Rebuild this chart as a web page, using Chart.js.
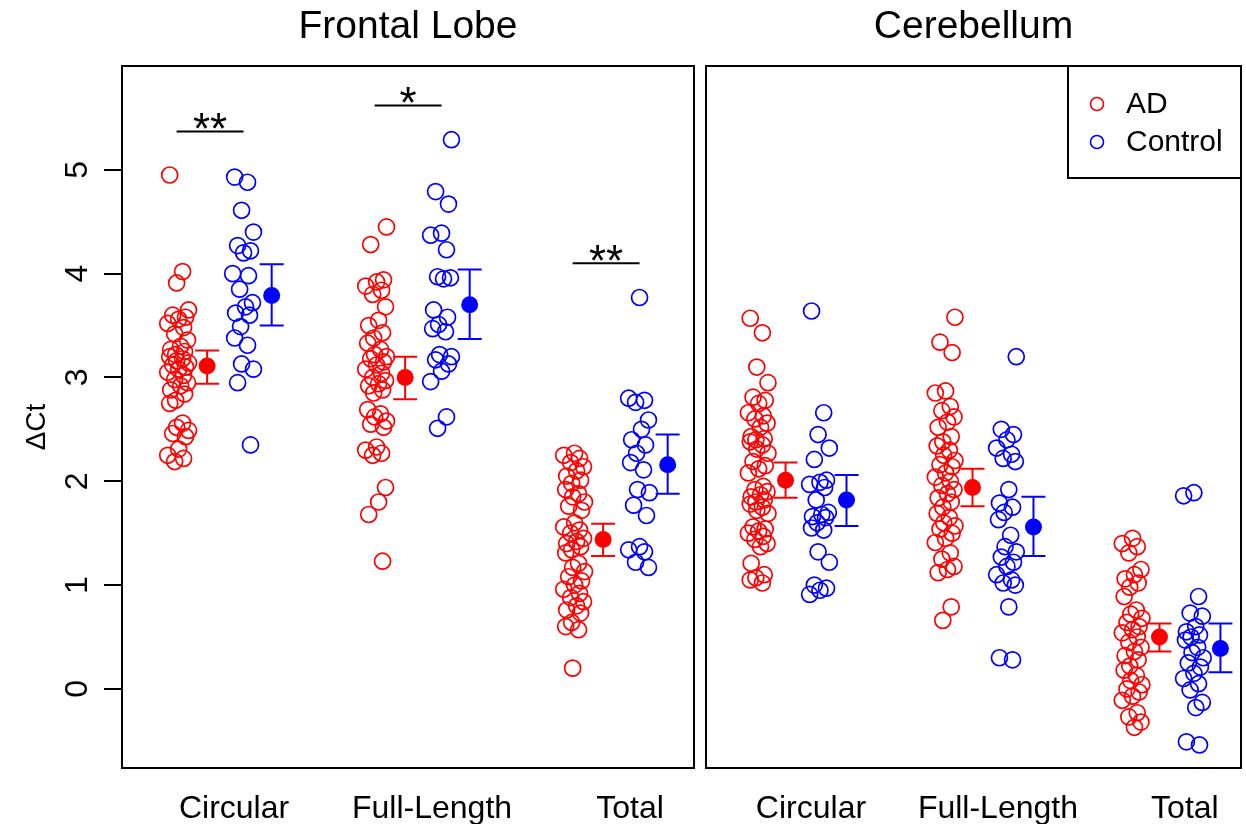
<!DOCTYPE html>
<html>
<head>
<meta charset="utf-8">
<script src="https://cdn.jsdelivr.net/npm/chart.js@4.4.1/dist/chart.umd.min.js"></script>
<style>
  html, body { margin: 0; padding: 0; background: #fff; }
  #wrap { position: relative; width: 1246px; height: 824px; }
  #frontal { position: absolute; left: 0; top: 0; }
  #cerebellum { position: absolute; left: 700px; top: 0; }
</style>
</head>
<body>
<div id="wrap">
  <canvas id="frontal" width="700" height="824" style="width:700px;height:824px"></canvas>
  <canvas id="cerebellum" width="546" height="824" style="width:546px;height:824px"></canvas>
</div>
<script>
// Categories and tick labels
const groups = ['Circular', 'Full-Length', 'Total'];
const yTicks = [0, 1, 2, 3, 4, 5];
const seriesNames = ['AD', 'Control'];

// Frontal lobe values (ΔCt) per group
const frontalCircAD = [4.95, 4.02, 3.91, 3.65, 3.60, 3.58, 3.56, 3.52, 3.48, 3.42, 3.36, 3.30, 3.27, 3.25, 3.22, 3.20, 3.18, 3.16, 3.14, 3.12, 3.10, 3.08, 3.05, 3.02, 2.98, 2.95, 2.92, 2.88, 2.84, 2.78, 2.75, 2.56, 2.52, 2.49, 2.46, 2.43, 2.31, 2.25, 2.22, 2.19];
const frontalCircCtrl = [4.93, 4.88, 4.61, 4.40, 4.27, 4.22, 4.20, 4.00, 3.98, 3.85, 3.72, 3.68, 3.62, 3.60, 3.49, 3.38, 3.31, 3.13, 3.08, 2.95, 2.35];
const frontalFullAD = [4.45, 4.28, 3.94, 3.92, 3.88, 3.84, 3.80, 3.68, 3.55, 3.50, 3.43, 3.38, 3.33, 3.27, 3.22, 3.20, 3.18, 3.15, 3.12, 3.08, 3.04, 3.00, 2.97, 2.94, 2.92, 2.88, 2.85, 2.69, 2.65, 2.62, 2.58, 2.55, 2.52, 2.33, 2.30, 2.27, 2.25, 1.94, 1.80, 1.68, 1.23];
const frontalFullCtrl = [5.29, 4.79, 4.67, 4.39, 4.37, 4.23, 3.97, 3.96, 3.95, 3.65, 3.58, 3.51, 3.47, 3.44, 3.22, 3.20, 3.17, 3.13, 3.06, 2.96, 2.62, 2.51];
const frontalTotalAD = [2.27, 2.25, 2.22, 2.18, 2.14, 2.10, 2.05, 2.01, 1.98, 1.92, 1.88, 1.85, 1.80, 1.76, 1.72, 1.60, 1.56, 1.53, 1.50, 1.45, 1.42, 1.40, 1.37, 1.34, 1.31, 1.21, 1.17, 1.13, 1.08, 1.04, 1.00, 0.96, 0.92, 0.88, 0.84, 0.80, 0.76, 0.73, 0.64, 0.60, 0.57, 0.20];
const frontalTotalCtrl = [3.77, 2.80, 2.78, 2.76, 2.59, 2.50, 2.40, 2.35, 2.27, 2.18, 2.11, 1.92, 1.89, 1.77, 1.67, 1.37, 1.34, 1.32, 1.22, 1.17];

// Cerebellum values (ΔCt) per group
const cerebCircAD = [3.57, 3.43, 3.10, 2.95, 2.81, 2.78, 2.75, 2.66, 2.63, 2.60, 2.56, 2.52, 2.43, 2.41, 2.40, 2.38, 2.35, 2.31, 2.27, 2.19, 2.15, 2.12, 2.08, 1.95, 1.92, 1.90, 1.87, 1.85, 1.82, 1.80, 1.78, 1.75, 1.72, 1.69, 1.56, 1.54, 1.52, 1.50, 1.47, 1.44, 1.40, 1.37, 1.21, 1.10, 1.07, 1.05, 1.02];
const cerebCircCtrl = [3.64, 2.66, 2.45, 2.32, 2.21, 2.01, 1.99, 1.97, 1.94, 1.82, 1.70, 1.68, 1.66, 1.65, 1.60, 1.55, 1.53, 1.32, 1.22, 1.00, 0.97, 0.95, 0.91];
const cerebFullAD = [3.58, 3.34, 3.24, 2.87, 2.85, 2.72, 2.68, 2.62, 2.57, 2.52, 2.43, 2.38, 2.34, 2.30, 2.25, 2.20, 2.16, 2.14, 2.08, 2.04, 2.00, 1.96, 1.92, 1.88, 1.84, 1.80, 1.75, 1.69, 1.65, 1.60, 1.57, 1.54, 1.50, 1.45, 1.41, 1.31, 1.25, 1.18, 1.15, 1.12, 0.79, 0.66];
const cerebFullCtrl = [3.20, 2.50, 2.45, 2.40, 2.32, 2.26, 2.22, 2.19, 1.92, 1.79, 1.75, 1.70, 1.63, 1.48, 1.37, 1.32, 1.27, 1.22, 1.18, 1.10, 1.05, 1.02, 1.00, 0.79, 0.30, 0.28];
const cerebTotalAD = [1.45, 1.40, 1.37, 1.31, 1.15, 1.10, 1.06, 1.02, 0.98, 0.89, 0.76, 0.72, 0.68, 0.64, 0.60, 0.57, 0.54, 0.50, 0.45, 0.40, 0.36, 0.32, 0.28, 0.22, 0.18, 0.13, 0.08, 0.04, 0.00, -0.03, -0.07, -0.11, -0.23, -0.27, -0.32, -0.37];
const cerebTotalCtrl = [1.89, 1.86, 0.89, 0.73, 0.70, 0.60, 0.55, 0.52, 0.50, 0.47, 0.40, 0.35, 0.30, 0.25, 0.21, 0.15, 0.10, 0.05, -0.01, -0.13, -0.18, -0.51, -0.54];

// Group means with error bar ends
const frontalMeanAD = [3.11, 3.00, 1.44];
const frontalLoAD = [2.94, 2.79, 1.28];
const frontalHiAD = [3.26, 3.20, 1.59];
const frontalMeanCtrl = [3.79, 3.70, 2.16];
const frontalLoCtrl = [3.50, 3.37, 1.88];
const frontalHiCtrl = [4.09, 4.04, 2.45];

const cerebMeanAD = [2.01, 1.94, 0.50];
const cerebLoAD = [1.84, 1.76, 0.36];
const cerebHiAD = [2.18, 2.12, 0.63];
const cerebMeanCtrl = [1.82, 1.56, 0.39];
const cerebLoCtrl = [1.57, 1.28, 0.16];
const cerebHiCtrl = [2.06, 1.85, 0.63];

// Significance marks (frontal lobe only)
const sigLabels = ['**', '*', '**'];
const sigLevels = [5.37, 5.62, 4.10];

const RED = '#ff0000';
const BLUE = '#0000ff';
const FONT = '"Liberation Sans", Arial, Helvetica, sans-serif';

// x offsets inside a group (in category units)
const AD_OFF = -0.28, AD_MEAN_OFF = -0.136, CT_OFF = 0.048, CT_MEAN_OFF = 0.19;
const jitter = [-0.045, 0.02, -0.01, 0.05, -0.03, 0.035, 0.0, -0.055, 0.025, -0.02, 0.045, 0.01, -0.04, 0.03, -0.015];

function stripPoints(lists, offset) {
  const pts = [];
  lists.forEach((vals, g) => {
    vals.forEach((v, i) => pts.push({ x: g + 1 + offset + jitter[(i + g * 3) % jitter.length], y: v }));
  });
  return pts;
}

function meanPoints(means, offset) {
  return means.map((m, g) => ({ x: g + 1 + offset, y: m }));
}

function errBars(lo, hi, offset, color) {
  return lo.map((l, g) => ({ x: g + 1 + offset, lo: l, hi: hi[g], color }));
}

const decor = {
  id: 'decor',
  beforeDatasetsDraw(chart, args, opts) {
    const { ctx, scales: { x, y } } = chart;
    ctx.save();
    ctx.lineWidth = 2;
    opts.bars.forEach(b => {
      const px = x.getPixelForValue(b.x);
      const top = y.getPixelForValue(b.hi);
      const bot = y.getPixelForValue(b.lo);
      ctx.strokeStyle = b.color;
      ctx.beginPath();
      ctx.moveTo(px, top); ctx.lineTo(px, bot);
      ctx.moveTo(px - 12, top); ctx.lineTo(px + 12, top);
      ctx.moveTo(px - 12, bot); ctx.lineTo(px + 12, bot);
      ctx.stroke();
    });
    ctx.restore();
  },
  afterDraw(chart, args, opts) {
    const { ctx, chartArea: a, scales: { x, y } } = chart;
    ctx.save();
    // box
    ctx.strokeStyle = '#000';
    ctx.lineWidth = 2;
    ctx.strokeRect(a.left, a.top, a.right - a.left, a.bottom - a.top);

    // panel title
    ctx.fillStyle = '#000';
    ctx.font = '39px ' + FONT;
    ctx.textAlign = 'center';
    ctx.textBaseline = 'alphabetic';
    ctx.fillText(opts.title, (a.left + a.right) / 2, 38);

    // y tick labels and axis title (rotated, like base R)
    if (opts.yLabels) {
      ctx.font = '32px ' + FONT;
      ctx.textBaseline = 'middle';
      yTicks.forEach(t => {
        ctx.save();
        ctx.translate(78, y.getPixelForValue(t));
        ctx.rotate(-Math.PI / 2);
        ctx.fillText(String(t), 0, 0);
        ctx.restore();
      });
      ctx.save();
      ctx.font = '28px ' + FONT;
      ctx.translate(37, (a.top + a.bottom) / 2 + 10);
      ctx.rotate(-Math.PI / 2);
      ctx.fillText('\u0394Ct', 0, 0);
      ctx.restore();
    }

    // significance brackets
    if (opts.sig) {
      ctx.lineWidth = 2;
      ctx.textBaseline = 'alphabetic';
      ctx.font = '44px ' + FONT;
      opts.sig.labels.forEach((lab, g) => {
        const x1 = x.getPixelForValue(g + 1 + AD_OFF - 0.01);
        const x2 = x.getPixelForValue(g + 1 + CT_OFF);
        const py = y.getPixelForValue(opts.sig.levels[g]);
        ctx.beginPath();
        ctx.moveTo(x1, py); ctx.lineTo(x2, py);
        ctx.stroke();
        ctx.fillText(lab, (x1 + x2) / 2, py + 13);
      });
    }

    // legend
    if (opts.legend) {
      const bw = 173, bh = 112;
      const bx = a.right - bw, by = a.top;
      ctx.lineWidth = 2;
      ctx.strokeRect(bx, by, bw, bh);
      ctx.font = '30px ' + FONT;
      ctx.textAlign = 'left';
      ctx.textBaseline = 'middle';
      [RED, BLUE].forEach((c, i) => {
        const cy = by + 38 + i * 38;
        ctx.strokeStyle = c;
        ctx.lineWidth = 1.6;
        ctx.beginPath();
        ctx.arc(bx + 29, cy, 6.5, 0, Math.PI * 2);
        ctx.stroke();
        ctx.fillStyle = '#000';
        ctx.fillText(seriesNames[i], bx + 58, cy + 1);
      });
    }
    ctx.restore();
  }
};

function makePanel(id, cfg) {
  const el = document.getElementById(id);
  return new Chart(el, {
    type: 'scatter',
    data: {
      datasets: [
        {
          label: 'AD',
          data: stripPoints(cfg.ad, AD_OFF),
          pointStyle: 'circle',
          pointRadius: 8,
          borderColor: RED,
          backgroundColor: 'rgba(0,0,0,0)',
          borderWidth: 1.7
        },
        {
          label: 'Control',
          data: stripPoints(cfg.ctrl, CT_OFF),
          pointStyle: 'circle',
          pointRadius: 8,
          borderColor: BLUE,
          backgroundColor: 'rgba(0,0,0,0)',
          borderWidth: 1.7
        },
        {
          label: 'AD mean',
          data: meanPoints(cfg.meanAD, AD_MEAN_OFF),
          pointRadius: 8.5,
          backgroundColor: RED,
          borderWidth: 0
        },
        {
          label: 'Control mean',
          data: meanPoints(cfg.meanCtrl, CT_MEAN_OFF),
          pointRadius: 8.5,
          backgroundColor: BLUE,
          borderWidth: 0
        }
      ]
    },
    options: {
      responsive: false,
      animation: false,
      events: [],
      layout: { padding: cfg.padding, autoPadding: false },
      scales: {
        x: {
          type: 'linear',
          min: cfg.xMin,
          max: cfg.xMax,
          afterBuildTicks: s => { s.ticks = groups.map((g, i) => ({ value: i + 1 })); },
          afterFit: s => { s.height = 56; s.paddingLeft = 0; s.paddingRight = 0; },
          grid: { display: false, drawTicks: false },
          border: { display: false },
          ticks: {
            autoSkip: false,
            maxRotation: 0,
            padding: 22,
            color: '#000',
            font: { size: 32, family: FONT },
            callback: v => groups[v - 1]
          }
        },
        y: {
          type: 'linear',
          min: -0.762,
          max: 6.0,
          display: cfg.showY,
          afterBuildTicks: s => { s.ticks = yTicks.map(v => ({ value: v })); },
          afterFit: s => { s.width = cfg.showY ? 122 : 0; },
          grid: { drawOnChartArea: false, drawTicks: true, tickLength: 18, color: '#000', lineWidth: 2 },
          border: { display: false },
          ticks: { display: false }
        }
      },
      plugins: {
        legend: { display: false },
        tooltip: { enabled: false },
        decor: {
          title: cfg.title,
          yLabels: cfg.showY,
          legend: cfg.legend,
          sig: cfg.sig,
          bars: errBars(cfg.loAD, cfg.hiAD, AD_MEAN_OFF, RED).concat(errBars(cfg.loCtrl, cfg.hiCtrl, CT_MEAN_OFF, BLUE))
        }
      }
    },
    plugins: [decor]
  });
}

makePanel('frontal', {
  title: 'Frontal Lobe',
  ad: [frontalCircAD, frontalFullAD, frontalTotalAD],
  ctrl: [frontalCircCtrl, frontalFullCtrl, frontalTotalCtrl],
  meanAD: frontalMeanAD, loAD: frontalLoAD, hiAD: frontalHiAD,
  meanCtrl: frontalMeanCtrl, loCtrl: frontalLoCtrl, hiCtrl: frontalHiCtrl,
  xMin: 0.434, xMax: 3.323,
  showY: true,
  legend: false,
  sig: { labels: sigLabels, levels: sigLevels },
  padding: { top: 66, right: 6, left: 0, bottom: 0 }
});

makePanel('cerebellum', {
  title: 'Cerebellum',
  ad: [cerebCircAD, cerebFullAD, cerebTotalAD],
  ctrl: [cerebCircCtrl, cerebFullCtrl, cerebTotalCtrl],
  meanAD: cerebMeanAD, loAD: cerebLoAD, hiAD: cerebHiAD,
  meanCtrl: cerebMeanCtrl, loCtrl: cerebLoCtrl, hiCtrl: cerebHiCtrl,
  xMin: 0.4385, xMax: 3.30,
  showY: false,
  legend: true,
  sig: null,
  padding: { top: 66, right: 5, left: 6, bottom: 0 }
});
</script>
</body>
</html>
